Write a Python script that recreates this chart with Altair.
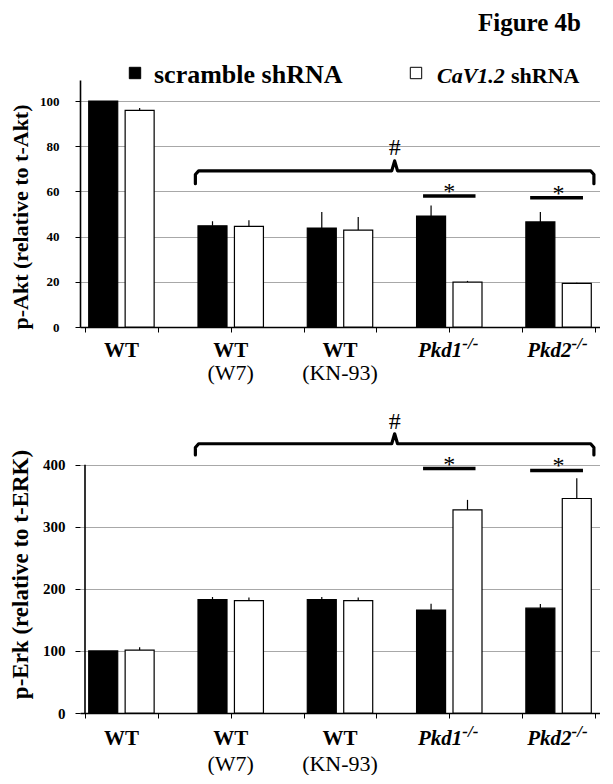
import altair as alt
import pandas as pd

FONT = "Liberation Serif"

groups = ["WT", "WT (W7)", "WT (KN-93)", "Pkd1-/-", "Pkd2-/-"]
series = ["scramble shRNA", "CaV1.2 shRNA"]

akt_scr = [100, 44.8, 43.8, 49.1, 46.5]
akt_scr_err = [0.0, 2.0, 7.1, 4.7, 4.4]
akt_cav = [95.9, 44.5, 42.9, 19.9, 19.3]
akt_cav_err = [1.0, 2.7, 5.8, 0.5, 0.3]

erk_scr = [100, 182.6, 182.6, 165.9, 169.0]
erk_scr_err = [0.0, 4.4, 4.4, 10.0, 6.5]
erk_cav = [101.5, 181.0, 181.0, 327.5, 345.7]
erk_cav_err = [4.3, 5.3, 5.3, 16.0, 32.7]

line1 = ["WT", "WT", "WT", "Pkd1", "Pkd2"]
line2 = ["", "(W7)", "(KN-93)", "", ""]
italic = [False, False, False, True, True]
sup = ["", "", "", "-/-", "-/-"]

akt_ticks = [0, 20, 40, 60, 80, 100]
erk_ticks = [0, 100, 200, 300, 400]

# significance annotations (value units)
akt_bracket_y = [63.4, 67.5, 69.1, 69.1, 73.5, 69.1, 69.1, 67.5, 63.4]
erk_bracket_y = [416, 428, 434, 434, 450, 434, 434, 428, 416]
bracket_x = [3.03, 3.03, 3.12, 8.42, 8.5, 8.58, 13.88, 13.97, 13.97]
star_x = [9.28, 12.22]
star_x2 = [10.72, 13.67]
star_center = [10, 13]
akt_star_y = [58, 57.2]
erk_star_y = [394, 391]
akt_hash_y = 76.2
erk_hash_y = 457

SLOTS = 14
W = 520


def bars_df(scr, scr_err, cav, cav_err):
    rows = []
    for i, g in enumerate(groups):
        rows.append({"group": g, "series": series[0], "slot": 3 * i + 0.5,
                     "value": scr[i], "top": scr[i] + scr_err[i]})
        rows.append({"group": g, "series": series[1], "slot": 3 * i + 1.5,
                     "value": cav[i], "top": cav[i] + cav_err[i]})
    return pd.DataFrame(rows)


labels_df = pd.DataFrame({
    "x": [3 * i + 1 for i in range(len(groups))],
    "l1": line1, "l2": line2, "italic": italic, "sup": sup,
})

fill_scale = alt.Scale(domain=series, range=["black", "white"])


def panel(df, ticks, ymax, height, ytitle, tfs, tickfs, bracket_y, star_y, hash_y,
          lab1_y, lab2_y, label_pad, draw_axis_rule):
    xs = alt.Scale(domain=[0, SLOTS], nice=False, zero=False)
    ys = alt.Scale(domain=[0, ymax], nice=False)
    xaxis = alt.Axis(values=list(range(SLOTS + 1)), labels=False, title=None,
                     grid=False, ticks=True, tickSize=5, tickColor="black",
                     domainColor="black", domainWidth=1.6)
    yaxis = alt.Axis(values=ticks, title=ytitle, grid=True, gridColor="#a8a8a8",
                     gridWidth=1, domain=not draw_axis_rule, domainColor="black",
                     domainWidth=1.6, tickColor="black", tickSize=5,
                     labelFont=FONT, labelFontSize=tickfs, labelFontWeight="bold",
                     labelColor="black", labelPadding=label_pad,
                     titleFont=FONT, titleFontSize=tfs, titleFontWeight="bold",
                     titleColor="black", titleX=-48, titleY=height / 2 + 13)
    base = alt.Chart(df)
    bars = base.mark_bar(size=29, stroke="black", strokeWidth=1.2).encode(
        x=alt.X("slot:Q", scale=xs, axis=xaxis),
        y=alt.Y("value:Q", scale=ys, axis=yaxis),
        fill=alt.Fill("series:N", scale=fill_scale, legend=None),
    )
    err = base.mark_rule(color="black", strokeWidth=1.2).encode(
        x="slot:Q", y="value:Q", y2="top:Q")
    layers = [bars, err]
    if draw_axis_rule:
        layers.append(alt.Chart(pd.DataFrame({"a": [0], "b": [ticks[-1]]})).mark_rule(
            color="black", strokeWidth=1.6).encode(
            x=alt.datum(0), y="a:Q", y2="b:Q"))
    br = pd.DataFrame({"x": bracket_x, "y": bracket_y, "o": list(range(len(bracket_x)))})
    layers.append(alt.Chart(br).mark_line(color="black", strokeWidth=3.2,
                                          strokeJoin="round", strokeCap="round").encode(
        x="x:Q", y="y:Q", order="o:Q"))
    st = pd.DataFrame({"x": star_x, "x2": star_x2, "y": star_y, "c": star_center})
    layers.append(alt.Chart(st).mark_rule(color="black", strokeWidth=3.5).encode(
        x="x:Q", x2="x2:Q", y="y:Q"))
    layers.append(alt.Chart(st).mark_text(text="*", font=FONT, fontSize=24,
                                          baseline="alphabetic", dy=3, color="black").encode(
        x="c:Q", y="y:Q"))
    hs = pd.DataFrame({"x": [8.5], "y": [hash_y]})
    layers.append(alt.Chart(hs).mark_text(text="#", font=FONT, fontSize=24,
                                          baseline="alphabetic", color="black").encode(
        x="x:Q", y="y:Q"))
    lab = alt.Chart(labels_df)
    layers.append(lab.transform_filter("!datum.italic").mark_text(
        font=FONT, fontSize=21, fontWeight="bold", baseline="alphabetic", color="black").encode(
        x="x:Q", y=alt.value(lab1_y), text="l1:N"))
    layers.append(lab.transform_filter("datum.italic").mark_text(
        font=FONT, fontSize=21, fontWeight="bold", fontStyle="italic", align="right",
        dx=13, baseline="alphabetic", color="black").encode(
        x="x:Q", y=alt.value(lab1_y), text="l1:N"))
    layers.append(lab.transform_filter("datum.italic").mark_text(
        font=FONT, fontSize=17, fontWeight="bold", fontStyle="italic", align="left",
        dx=13, baseline="alphabetic", color="black").encode(
        x="x:Q", y=alt.value(lab1_y - 8), text="sup:N"))
    layers.append(lab.transform_filter("datum.l2 != ''").mark_text(
        font=FONT, fontSize=22, baseline="alphabetic", color="black").encode(
        x="x:Q", y=alt.value(lab2_y), text="l2:N"))
    return layers


top_layers = panel(bars_df(akt_scr, akt_scr_err, akt_cav, akt_cav_err), akt_ticks, 109.3, 247,
                   "p-Akt (relative to t-Akt)", 22, 13, akt_bracket_y, akt_star_y, akt_hash_y,
                   277, 300, 16, False)

# legend drawn above the upper panel
leg = alt.Chart(pd.DataFrame({"series": series}))
top_layers.append(leg.transform_filter(alt.datum.series == series[0]).mark_square(
    size=130, stroke="black", strokeWidth=1, opacity=1).encode(
    x=alt.value(55), y=alt.value(-7), fill=alt.Fill("series:N", scale=fill_scale, legend=None)))
top_layers.append(leg.transform_filter(alt.datum.series == series[1]).mark_square(
    size=130, stroke="black", strokeWidth=1, opacity=1).encode(
    x=alt.value(336), y=alt.value(-7), fill=alt.Fill("series:N", scale=fill_scale, legend=None)))
top_layers.append(leg.transform_filter(alt.datum.series == series[0]).mark_text(
    font=FONT, fontSize=26, fontWeight="bold", align="left", baseline="alphabetic",
    color="black").encode(x=alt.value(74), y=alt.value(3), text="series:N"))
top_layers.append(leg.transform_filter(alt.datum.series == series[1]).mark_text(
    text="CaV1.2", font=FONT, fontSize=22, fontWeight="bold", fontStyle="italic",
    align="left", baseline="alphabetic", color="black").encode(
    x=alt.value(357), y=alt.value(3)))
top_layers.append(leg.transform_filter(alt.datum.series == series[1]).mark_text(
    text="shRNA", font=FONT, fontSize=22, fontWeight="bold",
    align="left", baseline="alphabetic", color="black").encode(
    x=alt.value(431), y=alt.value(3)))
top_layers.append(leg.transform_filter(alt.datum.series == series[0]).mark_text(
    text="Figure 4b", font=FONT, fontSize=25, fontWeight="bold",
    align="right", baseline="alphabetic", color="black").encode(
    x=alt.value(501), y=alt.value(-49)))

top = alt.layer(*top_layers).properties(width=W, height=247)

bottom_layers = panel(bars_df(erk_scr, erk_scr_err, erk_cav, erk_cav_err), erk_ticks, 490, 304,
                      "p-Erk (relative to t-ERK)", 23, 15, erk_bracket_y, erk_star_y, erk_hash_y,
                      336, 362, 10, True)
bottom = alt.layer(*bottom_layers).properties(width=W, height=304)

chart = alt.vconcat(top, bottom, spacing=82, bounds="flush").properties(
    padding={"left": 0, "top": 3, "right": 0, "bottom": 0},
).configure(background="white").configure_view(stroke="transparent", strokeWidth=0)

chart.save("out.html", embed_options={"renderer": "svg", "actions": False})
